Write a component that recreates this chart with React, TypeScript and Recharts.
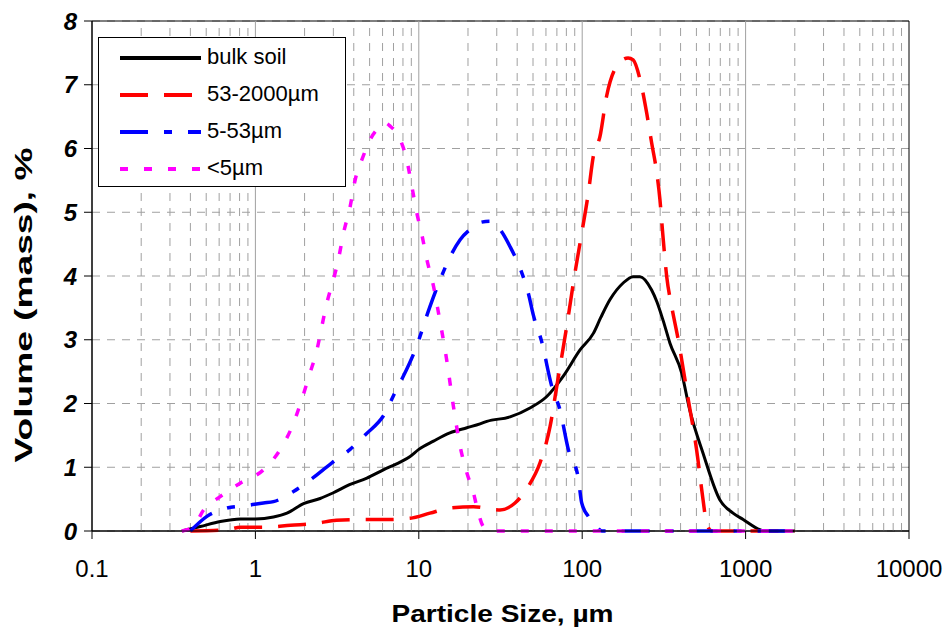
import React from 'react';
import {
  LineChart,
  Line,
  XAxis,
  YAxis,
  CartesianGrid,
  ReferenceLine,
  ReferenceArea,
  Legend,
} from 'recharts';

const FONT = '"Liberation Sans", Arial, sans-serif';

// particle size (µm) and volume (%)
const bulkSize = [0.355, 0.46, 0.61, 0.81, 1.0, 1.29, 1.56, 1.97, 2.49, 3.0, 3.8, 4.81, 6.07, 7.69, 8.85, 10, 12.3, 15.5, 19.7, 23.7, 26.1, 36.2, 47.9, 60.7, 76.6, 97, 117, 130, 148, 178, 205, 226, 266, 286, 313, 344, 406, 455, 549, 695, 838, 966, 1224, 1300, 2000];
const bulkVol = [0, 0.07, 0.15, 0.19, 0.19, 0.22, 0.28, 0.43, 0.51, 0.6, 0.73, 0.83, 0.96, 1.08, 1.17, 1.28, 1.41, 1.54, 1.62, 1.68, 1.72, 1.79, 1.93, 2.11, 2.43, 2.84, 3.1, 3.35, 3.63, 3.89, 3.99, 3.99, 3.78, 3.6, 3.3, 2.95, 2.48, 1.9, 1.22, 0.49, 0.28, 0.18, 0.02, 0, 0];

const coarseSize = [0.4, 0.67, 0.81, 1.17, 1.64, 2.38, 3.13, 4.81, 6.3, 8.85, 11.7, 15.5, 21.6, 31.4, 38.8, 46.8, 55.2, 63.6, 70.4, 80.4, 90.3, 99.3, 109, 117, 128.5, 141, 162.5, 191, 205, 226, 248, 266, 286, 299, 311, 329, 353, 387, 446, 501, 549, 577, 620, 2000];
const coarseVol = [0, 0.02, 0.06, 0.06, 0.09, 0.12, 0.17, 0.18, 0.18, 0.2, 0.28, 0.36, 0.38, 0.33, 0.44, 0.7, 1.07, 1.64, 2.32, 3.21, 4.05, 4.67, 5.3, 5.88, 6.19, 6.82, 7.29, 7.42, 7.39, 7.08, 6.56, 6.09, 5.62, 5.2, 4.67, 3.99, 3.52, 3.0, 2.06, 1.28, 0.49, 0.12, 0, 0];

const siltSize = [0.4, 0.505, 0.67, 0.887, 1.12, 1.29, 1.71, 2.16, 2.94, 3.8, 4.71, 6.22, 7.2, 8.05, 9.5, 11.7, 13.5, 14.9, 17.9, 20.6, 23.7, 27.3, 31.4, 36.2, 42.7, 46.8, 50.2, 56.5, 65.1, 73.1, 82.2, 94.6, 99.3, 109, 122.7, 131.6, 2000];
const siltVol = [0, 0.23, 0.36, 0.4, 0.44, 0.46, 0.62, 0.8, 1.07, 1.28, 1.51, 1.85, 2.19, 2.43, 2.84, 3.52, 3.94, 4.2, 4.57, 4.73, 4.84, 4.86, 4.73, 4.46, 4.05, 3.73, 3.39, 2.97, 2.27, 1.9, 1.28, 0.83, 0.44, 0.23, 0.07, 0, 0];

const claySize = [0.355, 0.418, 0.482, 0.609, 0.807, 1.12, 1.42, 1.71, 1.92, 2.16, 2.38, 2.55, 2.74, 3.0, 3.22, 3.46, 3.8, 4.08, 4.48, 5.04, 5.66, 6.22, 6.68, 7.69, 8.44, 9.06, 9.72, 10.4, 11.2, 12.3, 13.2, 14.8, 16.3, 17.9, 19.7, 21.6, 22.6, 24.8, 27.3, 2000];
const clayVol = [0, 0.07, 0.33, 0.54, 0.75, 0.96, 1.28, 1.69, 2.06, 2.48, 2.84, 3.21, 3.58, 3.94, 4.26, 4.67, 5.09, 5.51, 5.82, 6.14, 6.32, 6.4, 6.35, 6.14, 5.82, 5.41, 4.99, 4.67, 4.26, 3.84, 3.42, 2.69, 1.95, 1.33, 0.91, 0.6, 0.39, 0.07, 0, 0];

const xTicks = [0.1, 1, 10, 100, 1000, 10000];
const yTicks = [0, 1, 2, 3, 4, 5, 6, 7, 8];
const decadeStarts = [0.1, 1, 10, 100, 1000];
const minorSteps = [2, 3, 4, 5, 6, 7, 8, 9];

const toPoints = (xs: number[], ys: number[]) => xs.map((x, i) => ({ x, y: ys[i] }));

const series = [
  { name: 'bulk soil', color: '#000000', dash: undefined, width: 3, data: toPoints(bulkSize, bulkVol) },
  { name: '53-2000µm', color: '#ff0000', dash: '28 16', width: 3.5, data: toPoints(coarseSize, coarseVol) },
  { name: '5-53µm', color: '#0000ff', dash: '28 16 8 16', width: 3.5, data: toPoints(siltSize, siltVol) },
  { name: '<5µm', color: '#ff00ff', dash: '8 16', width: 3.5, data: toPoints(claySize, clayVol) },
];

const minorLines = decadeStarts.flatMap((d) => minorSteps.map((s) => +(d * s).toPrecision(3)));
const majorLines = xTicks.slice(1, -1);

const LegendBox = () => (
  <svg width={248} height={150} style={{ display: 'block', background: '#fff', border: '1px solid #000', boxSizing: 'border-box' }}>
    {series.map((s, i) => {
      const cy = 20 + i * 37;
      return (
        <g key={s.name}>
          <line x1={21} x2={102} y1={cy} y2={cy} stroke={s.color} strokeWidth={4} strokeDasharray={s.dash} />
          <text x={108} y={cy + 6} fontSize={22} fontFamily={FONT} fill="#000">
            {s.name}
          </text>
        </g>
      );
    })}
  </svg>
);

const YTitle = (props: any) => {
  const { viewBox } = props;
  const x = viewBox.x + 32;
  const y = viewBox.y + viewBox.height / 2 + 29;
  return (
    <text
      x={x}
      y={y}
      transform={`rotate(-90 ${x} ${y})`}
      textAnchor="middle"
      fontFamily={FONT}
      fontWeight="bold"
      fontSize={24}
      textLength={315}
      lengthAdjust="spacingAndGlyphs"
      fill="#000"
    >
      Volume (mass), %
    </text>
  );
};

const XTitle = (props: any) => {
  const { viewBox } = props;
  const x = viewBox.x + viewBox.width / 2 + 2;
  const y = viewBox.y + 91;
  return (
    <text
      x={x}
      y={y}
      textAnchor="middle"
      fontFamily={FONT}
      fontWeight="bold"
      fontSize={24}
      textLength={222}
      lengthAdjust="spacingAndGlyphs"
      fill="#000"
    >
      Particle Size, µm
    </text>
  );
};

const App: React.FC = () => {
  return (
    <div style={{ position: 'absolute', left: 0, top: 0, width: 951, height: 630, background: '#fff' }}>
      <LineChart width={951} height={630} margin={{ top: 21, right: 42, bottom: 0, left: 0 }}>
        <CartesianGrid vertical={false} stroke="#a0a0a0" strokeDasharray="8 7" />
        {minorLines.map((v) => (
          <ReferenceLine key={`m${v}`} x={v} stroke="#a0a0a0" strokeDasharray="8 7" />
        ))}
        {majorLines.map((v) => (
          <ReferenceLine key={`M${v}`} x={v} stroke="#a0a0a0" />
        ))}
        <ReferenceArea x1={0.1} x2={10000} y1={0} y2={8} fill="none" stroke="#000" strokeWidth={1} />
        <XAxis
          dataKey="x"
          type="number"
          scale="log"
          domain={[0.1, 10000]}
          ticks={xTicks}
          allowDataOverflow
          height={99}
          tickSize={8}
          tickMargin={21}
          stroke="#000"
          tick={{ fontSize: 24, fontFamily: FONT, fill: '#000' }}
          label={{ content: <XTitle /> }}
        />
        <YAxis
          type="number"
          domain={[0, 8]}
          ticks={yTicks}
          width={92}
          tickSize={8}
          tickMargin={7}
          stroke="#000"
          tick={{ fontSize: 24, fontFamily: FONT, fontWeight: 'bold', fontStyle: 'italic', fill: '#000' }}
          label={{ content: <YTitle /> }}
        />
        {series.map((s) => (
          <Line
            key={s.name}
            data={s.data}
            dataKey="y"
            name={s.name}
            type="monotone"
            stroke={s.color}
            strokeWidth={s.width}
            strokeDasharray={s.dash}
            dot={false}
            isAnimationActive={false}
          />
        ))}
        <Legend
          layout="horizontal"
          verticalAlign="middle"
          align="center"
          content={<LegendBox />}
          wrapperStyle={{ left: 98, top: 37, width: 248, height: 150 }}
        />
      </LineChart>
    </div>
  );
};

export default App;
